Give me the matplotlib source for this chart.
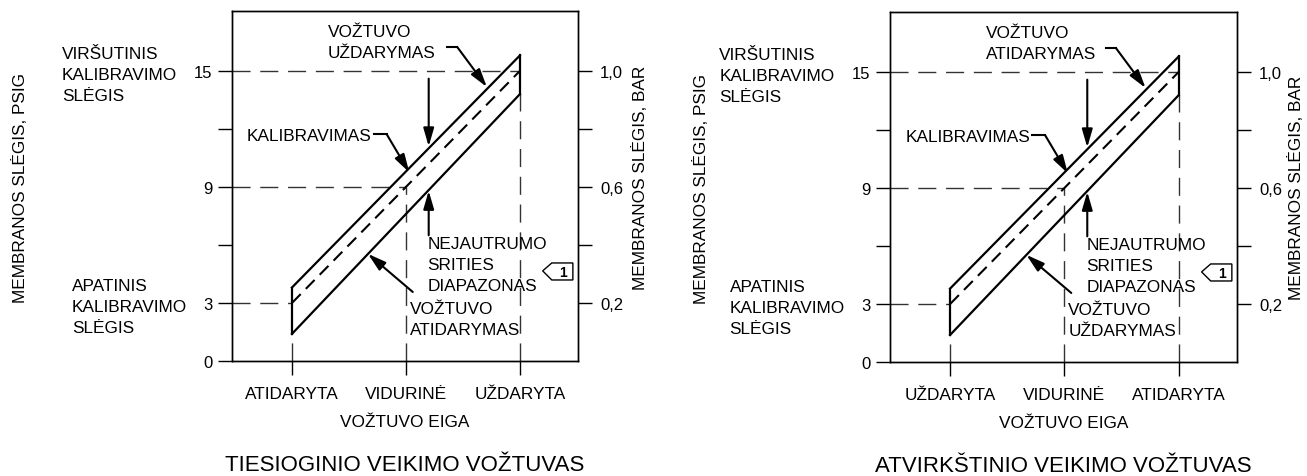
import matplotlib
matplotlib.use("Agg")
import matplotlib.pyplot as plt
from matplotlib.patches import Polygon

plt.rcParams['font.family'] = ['Liberation Sans', 'DejaVu Sans']

# valve travel positions (0 = start, 1 = mid, 2 = end of stroke)
travel_pos = [0, 1, 2]
travel_labels_direct = ['ATIDARYTA', 'VIDURINĖ', 'UŽDARYTA']
travel_labels_reverse = ['UŽDARYTA', 'VIDURINĖ', 'ATIDARYTA']

# pressure axes
psig_ticks = [0, 3, 6, 9, 12, 15]
psig_labels = ['0', '3', '', '9', '', '15']
bar_ticks = [3, 6, 9, 12, 15]
bar_labels = ['0,2', '', '0,6', '', '1,0']

# calibration line (psig) at each travel position
cal_psig = [3, 9, 15]
# dead band edges at the two ends of travel
band_ends = [0, 2]
band_upper = [3.8, 15.8]
band_lower = [1.4, 13.8]

FS = 12.4
TS = 12
REF = dict(color='#333333', lw=1.0, dashes=(13, 7))
ARW = dict(arrowstyle='-|>,head_length=0.55,head_width=0.16', mutation_scale=20,
           lw=1.5, color='black', shrinkA=0, shrinkB=0)


def panel(ax, xlabels, top_note, bottom_note, title, ylab_x, rylab_x, rylab_y):
    ax.set_xlim(-0.526, 2.51)
    ax.set_ylim(0, 18.1)
    x0 = ax.get_xlim()[0]

    # reference dashed lines
    for x, y in zip(travel_pos, cal_psig):
        ax.plot([x0, x], [y, y], **REF)
    ax.plot([travel_pos[0]] * 2, [0, band_lower[0]], **REF)
    ax.plot([travel_pos[1]] * 2, [0, cal_psig[1]], **REF)
    ax.plot([travel_pos[2]] * 2, [0, band_lower[1]], **REF)

    # dead band
    ax.plot(band_ends, band_upper, color='black', lw=1.6)
    ax.plot(band_ends, band_lower, color='black', lw=1.6)
    ax.plot([band_ends[0]] * 2, [band_lower[0], band_upper[0]], color='black', lw=1.6)
    ax.plot([band_ends[1]] * 2, [band_lower[1], band_upper[1]], color='black', lw=1.6)
    ax.plot(travel_pos, cal_psig, color='black', lw=1.5, dashes=(6, 3.5))

    ax.set_xticks(travel_pos, xlabels)
    ax.set_yticks(psig_ticks, psig_labels)
    ax.yaxis.get_major_ticks()[0].tick1line.set_visible(False)
    ax.tick_params(direction='out', length=10, width=1, labelsize=TS)
    ax.tick_params(axis='x', pad=8, labelsize=FS)
    ax.tick_params(axis='y', pad=4)
    for s in ax.spines.values():
        s.set_linewidth(1.0)

    ax2 = ax.twinx()
    ax2.set_ylim(ax.get_ylim())
    ax2.set_yticks(bar_ticks, bar_labels)
    ax2.tick_params(direction='out', length=10, width=1, labelsize=TS, pad=6)
    for s in ax2.spines.values():
        s.set_linewidth(1.0)

    ax.text(0.5, -0.151, 'VOŽTUVO EIGA', transform=ax.transAxes, ha='center', va='top', fontsize=FS)
    ax.text(0.5, -0.326, title, transform=ax.transAxes, ha='center', va='bottom', fontsize=16)
    ax.text(ylab_x, 0.497, 'MEMBRANOS SLĖGIS, PSIG', transform=ax.transAxes, rotation=90,
            ha='center', va='center', fontsize=FS)
    ax.text(rylab_x, rylab_y, 'MEMBRANOS SLĖGIS, BAR', transform=ax.transAxes, rotation=90,
            ha='center', va='center', fontsize=FS)

    ls = 1.5
    ax.text(-2.02, 14.8, 'VIRŠUTINIS\nKALIBRAVIMO\nSLĖGIS', ha='left', va='center', fontsize=FS, linespacing=ls)
    ax.text(-1.93, 2.82, 'APATINIS\nKALIBRAVIMO\nSLĖGIS', ha='left', va='center', fontsize=FS, linespacing=ls)

    # top note with bent leader
    ax.text(0.316, 16.5, 'VOŽTUVO\n' + top_note, ha='left', va='center', fontsize=FS, linespacing=ls)
    ax.plot([1.36, 1.45], [16.24, 16.24], color='black', lw=1.5)
    ax.annotate('', xy=(1.71, 14.17), xytext=(1.45, 16.24), arrowprops=ARW)

    # dead band arrows
    ax.annotate('', xy=(1.20, 11.1), xytext=(1.20, 14.6), arrowprops=ARW)
    ax.annotate('', xy=(1.20, 8.8), xytext=(1.20, 6.5), arrowprops=ARW)

    ax.text(0.70, 11.64, 'KALIBRAVIMAS', ha='right', va='center', fontsize=FS)
    ax.plot([0.72, 0.83], [11.74, 11.74], color='black', lw=1.5)
    ax.annotate('', xy=(1.03, 9.75), xytext=(0.83, 11.74), arrowprops=ARW)

    ax.text(1.19, 4.97, 'NEJAUTRUMO\nSRITIES\nDIAPAZONAS', ha='left', va='center', fontsize=FS, linespacing=ls)
    tag = Polygon([(2.20, 4.66), (2.28, 5.07), (2.465, 5.07), (2.465, 4.19), (2.28, 4.19)],
                  closed=True, fill=False, edgecolor='black', lw=1.0, clip_on=False)
    ax.add_patch(tag)
    ax.text(2.375, 4.62, '1', ha='center', va='center', fontsize=10, fontweight='bold')

    ax.text(1.035, 2.17, 'VOŽTUVO\n' + bottom_note, ha='left', va='center', fontsize=FS, linespacing=ls)
    ax.annotate('', xy=(0.667, 5.54), xytext=(1.06, 3.57), arrowprops=ARW)


fig = plt.figure(figsize=(13.07, 4.77), dpi=100)
axL = fig.add_axes([232 / 1307, 115 / 477, 346 / 1307, 350 / 477])
axR = fig.add_axes([890 / 1307, 114 / 477, 347 / 1307, 350 / 477])

panel(axL, travel_labels_direct, 'UŽDARYMAS', 'ATIDARYMAS',
      'TIESIOGINIO VEIKIMO VOŽTUVAS', -0.613, 1.179, 0.526)
panel(axR, travel_labels_reverse, 'ATIDARYMAS', 'UŽDARYMAS',
      'ATVIRKŠTINIO VEIKIMO VOŽTUVAS', -0.545, 1.170, 0.5)

fig.savefig('out.png', dpi=100)
